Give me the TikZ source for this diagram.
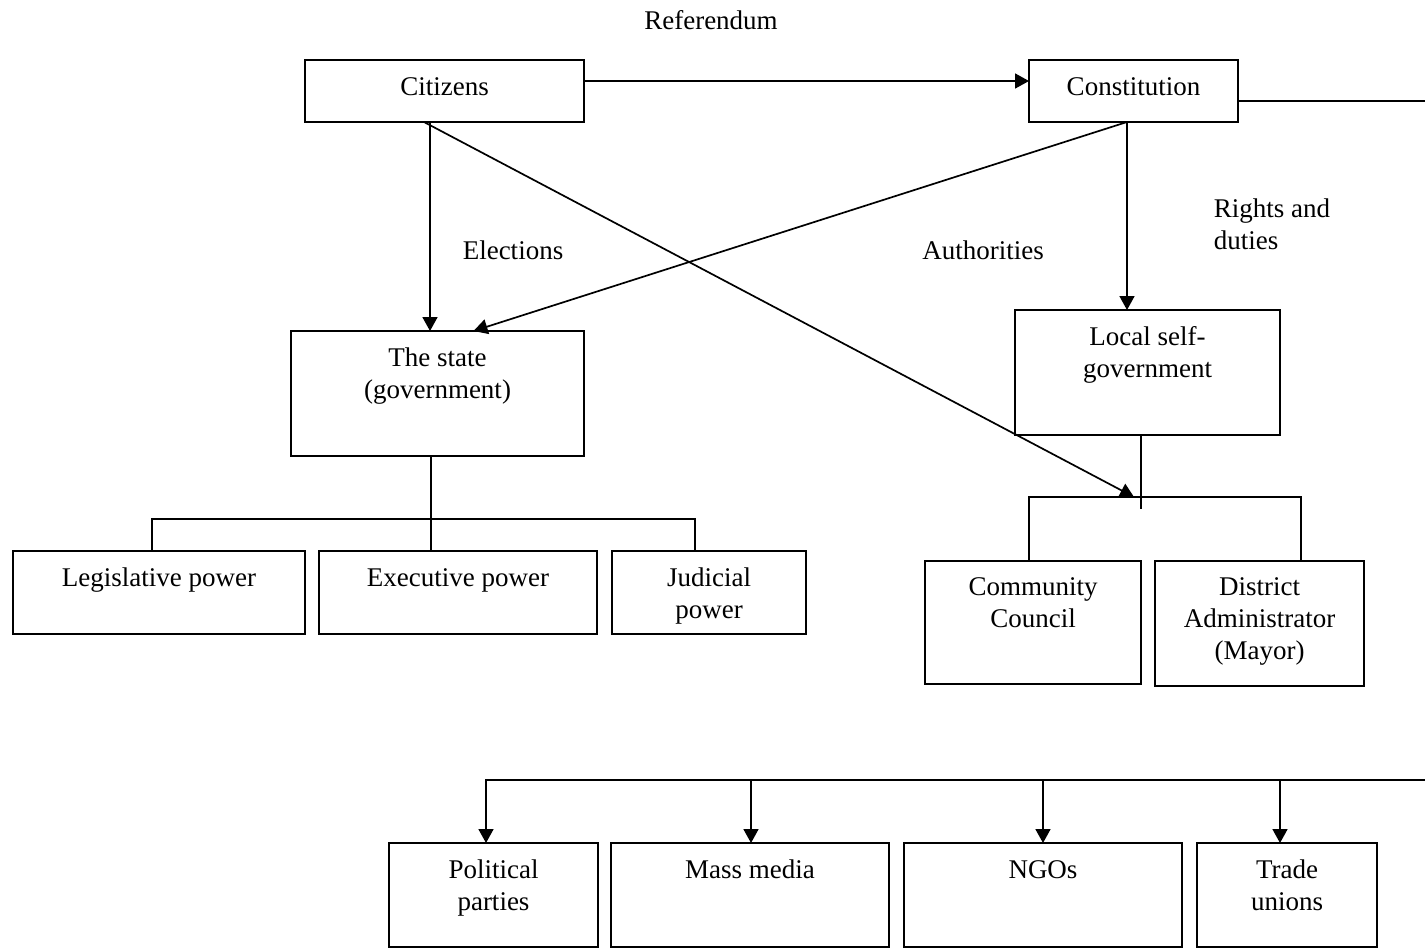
\documentclass[tikz,border=0pt]{standalone}
\usepackage{fontspec}
\setmainfont{Liberation Serif}
\usetikzlibrary{arrows.meta}

\tikzset{
  box/.style={draw, line width=1.7pt, anchor=north west, inner sep=0pt, outer sep=0pt},
  txt/.style={below=16pt, inner sep=0pt, align=center, execute at begin node={\vphantom{(}}},
  arr/.style={-{Triangle[length=14pt,width=15pt]}},
}

\begin{document}
\begin{tikzpicture}[x=1pt, y=-1pt, line width=1.7pt, font=\fontsize{27}{32}\selectfont]

	\useasboundingbox (0,0) rectangle (1425,948);

	% Top row
	\node[box, minimum width=279pt, minimum height=62pt, label={[txt]north:Citizens}] (cit) at (305,60) {};
	\node[box, minimum width=209pt, minimum height=62pt, label={[txt]north:Constitution}] (con) at (1029,60) {};
	\node (ref) at (711,20) {Referendum};

	% Middle boxes
	\node[box, minimum width=293pt, minimum height=125pt, label={[txt]north:The state\\(government)}] (st) at (291,331) {};
	\node[box, minimum width=265pt, minimum height=125pt, label={[txt]north:Local self-\\government}] (lsg) at (1015,310) {};

	\node (el) at (513,250) {Elections};
	\node (au) at (983,250) {Authorities};
	\node[anchor=west, align=left, inner sep=0pt] (rd) at (1213,224) {Rights and\\duties};

	% Branches of power
	\node[box, minimum width=292pt, minimum height=83pt, label={[txt]north:Legislative power}] (leg) at (13,551) {};
	\node[box, minimum width=278pt, minimum height=83pt, label={[txt]north:Executive power}] (ex) at (319,551) {};
	\node[box, minimum width=194pt, minimum height=83pt, label={[txt]north:Judicial\\power}] (jud) at (612,551) {};

	% Local level
	\node[box, minimum width=216pt, minimum height=123pt, label={[txt]north:Community\\Council}] (cc) at (925,561) {};
	\node[box, minimum width=209pt, minimum height=125pt, label={[txt]north:District\\Administrator\\(Mayor)}] (da) at (1155,561) {};

	% Civil society
	\node[box, minimum width=209pt, minimum height=104pt, label={[txt]north:Political\\parties}] (pp) at (389,843) {};
	\node[box, minimum width=278pt, minimum height=104pt, label={[txt]north:Mass media}] (mm) at (611,843) {};
	\node[box, minimum width=278pt, minimum height=104pt, label={[txt]north:NGOs}] (ngo) at (904,843) {};
	\node[box, minimum width=180pt, minimum height=104pt, label={[txt]north:Trade\\unions}] (tu) at (1197,843) {};

	\coordinate (conend) at (1425,101);
	\coordinate (stbus) at (431,519);
	\coordinate (lsgbus) at (1141,497);
	\coordinate (lsgtail) at (1141,509);
	\coordinate (orgend) at (1425,780);

	% Connectors
	\draw[arr] ([yshift=10pt]cit.east) -- ([yshift=10pt]con.west);
	\draw ([yshift=-10pt]con.east) -- ([yshift=-10pt]con.east -| conend);

	\draw[arr] ([xshift=-14.5pt]cit.south) -- ([xshift=-14.5pt]cit.south |- st.north);
	\draw[arr] ([xshift=-20.5pt]cit.south) -- ([xshift=-7pt]lsgbus);
	\draw[arr] ([xshift=-6.5pt]con.south) -- ([xshift=36pt]st.north);
	\draw[arr] ([xshift=-6.5pt]con.south) -- ([xshift=-6.5pt]con.south |- lsg.north);

	\draw ([xshift=-6.5pt]st.south) -- ([xshift=-6.5pt]st.south |- ex.north);
	\draw ([xshift=-7pt]leg.north) |- (stbus) -| ([xshift=-14pt]jud.north);

	\draw ([xshift=-6.5pt]lsg.south) -- (lsgtail);
	\draw ([xshift=-4pt]cc.north) |- (lsgbus) -| ([xshift=41.5pt]da.north);

	\draw[arr] (orgend) -| ([xshift=-7.5pt]pp.north);
	\draw[arr] ([xshift=1pt]mm.north |- orgend) -- ([xshift=1pt]mm.north);
	\draw[arr] (ngo.north |- orgend) -- (ngo.north);
	\draw[arr] ([xshift=-7pt]tu.north |- orgend) -- ([xshift=-7pt]tu.north);

\end{tikzpicture}
\end{document}
